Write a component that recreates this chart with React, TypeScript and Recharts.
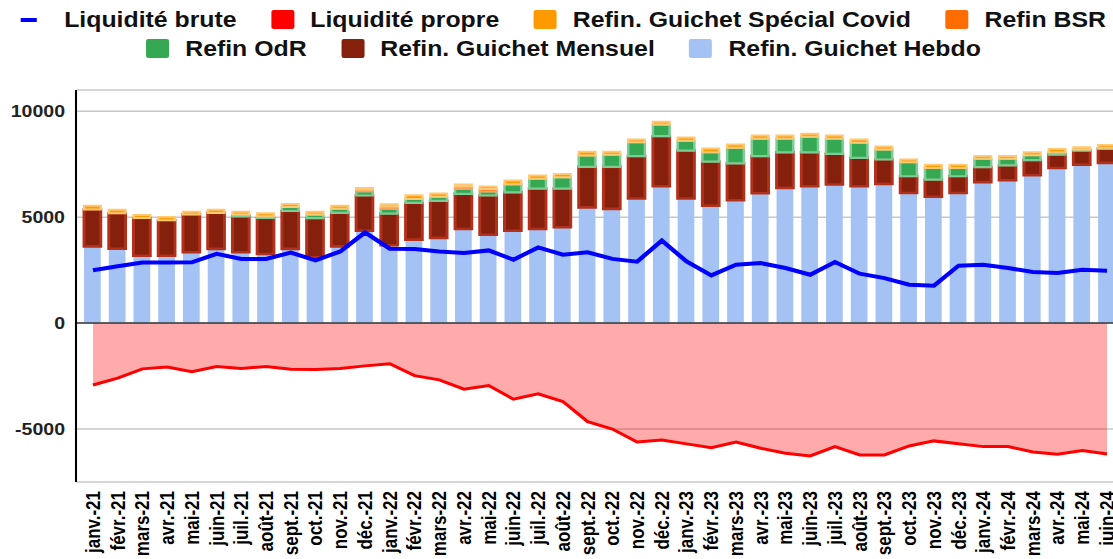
import React from 'react';
import { ComposedChart, Bar, Line, Area, XAxis, YAxis, CartesianGrid, ReferenceLine } from 'recharts';

const months = [
  'janv.-21', 'févr.-21', 'mars-21', 'avr.-21', 'mai-21', 'juin-21', 'juil.-21', 'août-21', 'sept.-21', 'oct.-21', 'nov.-21', 'déc.-21',
  'janv.-22', 'févr.-22', 'mars-22', 'avr.-22', 'mai-22', 'juin-22', 'juil.-22', 'août-22', 'sept.-22', 'oct.-22', 'nov.-22', 'déc.-22',
  'janv.-23', 'févr.-23', 'mars-23', 'avr.-23', 'mai-23', 'juin-23', 'juil.-23', 'août-23', 'sept.-23', 'oct.-23', 'nov.-23', 'déc.-23',
  'janv.-24', 'févr.-24', 'mars-24', 'avr.-24', 'mai-24', 'juin-24',
];

const hebdo = [
  3620, 3510, 3180, 3180, 3340, 3500, 3340, 3260, 3500, 3100, 3620, 4360,
  3670, 3940, 4020, 4440, 4170, 4360, 4440, 4520, 5460, 5390, 5880, 6460,
  5880, 5540, 5800, 6130, 6380, 6460, 6540, 6460, 6570, 6140, 5960, 6140,
  6650, 6740, 6980, 7320, 7480, 7560,
];
const mensuel = [
  1740, 1670, 1780, 1670, 1790, 1700, 1700, 1700, 1790, 1850, 1580, 1660,
  1500, 1730, 1750, 1660, 1850, 1810, 1910, 1830, 1910, 1980, 2000, 2360,
  2260, 2080, 1740, 1750, 1680, 1600, 1450, 1340, 1150, 790, 810, 790,
  710, 700, 710, 630, 660, 660,
];
const odr = [
  0, 0, 0, 0, 0, 0, 80, 80, 190, 170, 190, 200,
  220, 190, 190, 230, 190, 380, 460, 530, 540, 580, 660, 550,
  460, 440, 730, 820, 640, 730, 710, 710, 470, 660, 550, 390,
  390, 310, 230, 110, 50, 50,
];
const bsr = [
  0, 0, 0, 0, 0, 0, 0, 0, 0, 0, 0, 80,
  110, 0, 0, 110, 120, 0, 0, 0, 0, 0, 0, 0,
  0, 0, 0, 0, 0, 0, 0, 0, 0, 0, 0, 0,
  0, 0, 0, 0, 0, 0,
];
const covid = [
  180, 170, 140, 160, 130, 150, 140, 140, 140, 140, 150, 80,
  110, 170, 150, 100, 110, 180, 150, 160, 170, 130, 120, 130,
  160, 180, 160, 150, 150, 140, 150, 150, 140, 130, 150, 150,
  130, 130, 140, 160, 110, 130,
];
const brute = [
  2490, 2680, 2860, 2860, 2870, 3270, 3030, 3030, 3330, 2960, 3380, 4280,
  3510, 3500, 3380, 3310, 3430, 2990, 3570, 3230, 3340, 3030, 2900, 3890,
  2910, 2250, 2750, 2830, 2600, 2280, 2880, 2330, 2120, 1810, 1760, 2710,
  2750, 2600, 2410, 2360, 2520, 2470,
];
const propre = [
  -2920, -2600, -2160, -2070, -2290, -2050, -2140, -2050, -2180, -2190, -2140, -2020,
  -1920, -2480, -2680, -3120, -2950, -3590, -3340, -3700, -4650, -5000, -5610, -5520,
  -5700, -5880, -5610, -5910, -6140, -6270, -5830, -6220, -6220, -5800, -5560, -5700,
  -5830, -5830, -6080, -6190, -6020, -6180,
];

const yTicks = [-5000, 0, 5000, 10000];
const yDomain = [-7500, 11000];

const S = 1.15; // horizontal stretch of the reference
const W = 980;
const H = 559;
const AXIS_X = 76 / S;
const PLOT_RIGHT = 1119.4 / S;
const FONT = '"Liberation Sans", Arial, sans-serif';

const C_BLUE = '#0000FF';
const C_RED = '#FF0000';
const C_COVID = '#FF9900';
const C_BSR = '#FF6D01';
const C_ODR = '#34A853';
const C_MENS = '#85200C';
const C_HEBDO = '#A4C2F4';

const legendRow1 = [
  { label: 'Liquidité brute', color: C_BLUE, line: true },
  { label: 'Liquidité propre', color: C_RED },
  { label: 'Refin. Guichet Spécial Covid', color: C_COVID },
  { label: 'Refin BSR', color: C_BSR },
];
const legendRow2 = [
  { label: 'Refin OdR', color: C_ODR },
  { label: 'Refin. Guichet Mensuel', color: C_MENS },
  { label: 'Refin. Guichet Hebdo', color: C_HEBDO },
];

const XTick = (props: any) => {
  const { x, payload } = props;
  const ty = 491;
  return (
    <text
      x={x}
      y={ty}
      transform={`rotate(-90 ${x} ${ty})`}
      textAnchor="end"
      dominantBaseline="central"
      fontFamily={FONT}
      fontWeight="bold"
      fontSize={17}
      fill="#000"
    >
      {payload.value}
    </text>
  );
};

const YTick = (props: any) => {
  const { y, payload } = props;
  return (
    <text
      x={AXIS_X - 11 / S}
      y={y}
      textAnchor="end"
      dominantBaseline="central"
      fontFamily={FONT}
      fontWeight="bold"
      fontSize={17}
      fill="#222"
    >
      {payload.value}
    </text>
  );
};

const LegendRow = ({ items }: { items: any[] }) => (
  <div style={{ display: 'flex', justifyContent: 'center', alignItems: 'center', height: 29 }}>
    {items.map((it, i) => (
      <div key={it.label} style={{ display: 'flex', alignItems: 'center', marginLeft: i === 0 ? 0 : 30 }}>
        {it.line ? (
          <div style={{ width: 23.5, height: 19, display: 'flex', alignItems: 'center' }}>
            <div style={{ width: 14, height: 4, background: it.color }} />
          </div>
        ) : (
          <div style={{ width: 20, height: 19, background: it.color, borderRadius: 2 }} />
        )}
        <span style={{ marginLeft: 14, fontSize: 21.6, fontWeight: 'bold', color: '#111', whiteSpace: 'nowrap', fontFamily: FONT }}>
          {it.label}
        </span>
      </div>
    ))}
  </div>
);

export default function App() {
  const data = months.map((m, i) => ({
    month: m,
    hebdo: hebdo[i],
    mensuel: mensuel[i],
    odr: odr[i],
    bsr: bsr[i],
    covid: covid[i],
    brute: brute[i],
    propre: propre[i],
  }));
  const barSize = 16.7 / S;
  return (
    <div style={{ position: 'fixed', left: 0, top: 0, width: 1113, height: 559, overflow: 'hidden', background: '#fff' }}>
      <div style={{ position: 'relative', width: W, height: H, transform: `scaleX(${S})`, transformOrigin: '0 0', fontFamily: FONT }}>
        <div style={{ position: 'absolute', left: 0, top: 5, width: W, zIndex: 2 }}>
          <LegendRow items={legendRow1} />
          <LegendRow items={legendRow2} />
        </div>
        <ComposedChart
          width={W}
          height={H}
          data={data}
          margin={{ top: 90, right: W - PLOT_RIGHT, left: 0, bottom: 0 }}
          barGap={0}
        >
          <CartesianGrid vertical={false} stroke="#c8c8c8" strokeWidth={1.5} />
          <XAxis
            dataKey="month"
            interval={0}
            height={77}
            axisLine={false}
            tickLine={false}
            tick={<XTick />}
            padding={{ left: 4.6 / S, right: 0 }}
          />
          <YAxis
            type="number"
            domain={yDomain}
            ticks={yTicks}
            allowDataOverflow
            width={AXIS_X}
            axisLine={{ stroke: '#000', strokeWidth: 1.8 }}
            tickLine={false}
            tick={<YTick />}
          />
          <Area
            type="linear"
            dataKey="propre"
            stroke={C_RED}
            strokeWidth={3}
            fill="#FF0000"
            fillOpacity={0.33}
            dot={false}
            activeDot={false}
            isAnimationActive={false}
          />
          <Bar dataKey="hebdo" stackId="s" fill={C_HEBDO} barSize={barSize} isAnimationActive={false} />
          <Bar dataKey="mensuel" stackId="s" fill={C_MENS} stroke="#B3301A" strokeWidth={2.6} barSize={barSize} isAnimationActive={false} />
          <Bar dataKey="odr" stackId="s" fill={C_ODR} stroke="#7FCB95" strokeWidth={2.2} barSize={barSize} isAnimationActive={false} />
          <Bar dataKey="bsr" stackId="s" fill={C_BSR} stroke="#FF9E5E" strokeWidth={2} barSize={barSize} isAnimationActive={false} />
          <Bar dataKey="covid" stackId="s" fill={C_COVID} stroke="#FFC873" strokeWidth={2} barSize={barSize} isAnimationActive={false} />
          <Line
            type="linear"
            dataKey="brute"
            stroke={C_BLUE}
            strokeWidth={4}
            dot={false}
            activeDot={false}
            isAnimationActive={false}
          />
          <ReferenceLine y={0} stroke="#3a3a3a" strokeWidth={1.5} />
        </ComposedChart>
      </div>
    </div>
  );
}
